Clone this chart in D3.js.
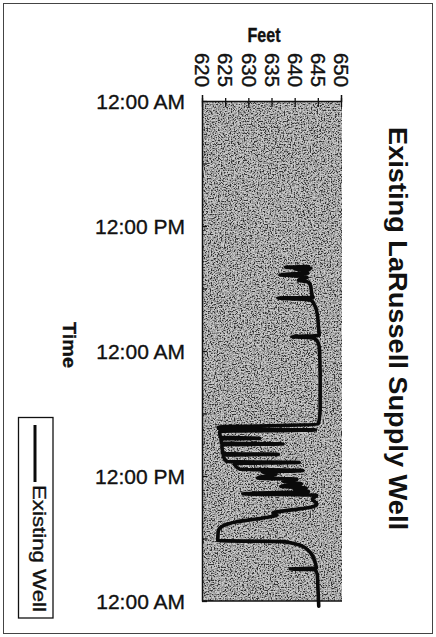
<!DOCTYPE html>
<html>
<head>
<meta charset="utf-8">
<script src="https://cdn.jsdelivr.net/npm/d3@7"></script>
<style>
  body { margin: 0; background: #fff; }
  svg { display: block; }
  text { font-family: "Liberation Sans", Arial, Helvetica, sans-serif; fill: #111; }
  .heavy { stroke: #111; stroke-width: 0.35px; }
</style>
</head>
<body>
<svg id="chart" width="436" height="637"></svg>
<script>
// Water level in the supply well, hours counted from midnight of day one
const hoursFromStart = [
  15.9, 15.97, 16.05, 16.12, 16.2, 16.35, 16.5, 16.7, 16.8, 16.95,
  17.2, 17.4, 17.7, 18.2, 18.7, 18.85, 18.92, 19.0, 19.15, 19.6,
  20.5, 21.5, 22.5, 22.62, 22.72, 23.0, 23.6, 26.0, 29.5, 30.6,
  31.05, 31.3, 31.5, 31.58, 31.72, 32.3, 32.38, 32.44, 32.85, 32.92,
  33.0, 33.85, 33.92, 34.0, 34.62, 34.7, 34.8, 35.35, 35.48, 35.6,
  35.8, 36.2, 36.3, 36.5, 36.75, 37.0, 37.15, 37.3, 37.5, 37.7,
  37.85, 38.2, 38.7, 39.0, 39.3, 39.55, 39.75, 40.0, 40.4, 40.85,
  41.3, 42.2, 42.3, 42.45, 42.65, 43.1, 43.6, 44.3, 44.85, 44.92,
  45.0, 45.5, 46.5, 47.5, 48.5
];
const waterLevelFt = [
  643.0, 638.0, 643.5, 640.0, 643.2, 641.0, 642.8, 636.8, 641.5, 642.7,
  640.8, 643.0, 643.4, 643.6, 643.8, 644.0, 636.4, 640.5, 643.6, 644.3,
  644.9, 645.1, 645.3, 639.4, 643.8, 644.8, 645.3, 645.5, 645.5, 645.3,
  645.0, 623.5, 623.6, 644.5, 623.8, 624.0, 632.5, 624.1, 624.2, 637.5,
  624.3, 624.5, 636.5, 624.6, 625.4, 641.0, 627.0, 628.2, 641.8, 633.0,
  636.0, 632.0, 640.5, 637.5, 641.5, 637.0, 642.5, 640.0, 643.0, 628.8,
  644.8, 643.8, 644.8, 643.5, 638.5, 635.3, 636.2, 633.5, 627.5, 624.3,
  623.5, 623.4, 637.5, 639.5, 641.2, 642.8, 643.8, 644.4, 644.7, 639.0,
  644.4, 644.9, 645.0, 645.1, 645.2
];
const feetTicks = [620, 625, 630, 635, 640, 645, 650];
const feetDomain = [620, 650];
const timeSpanHours = 48;
const titleText = "Existing LaRussell Supply Well";
const xAxisTitle = "Feet";
const yAxisTitle = "Time";
const seriesName = "Existing Well";

const svg = d3.select("#chart");
const W = 436, H = 637;
const plot = { left: 202, right: 342, top: 101, bottom: 601 };

const start = new Date(2000, 0, 1, 0, 0);
const toDate = h => new Date(start.getTime() + h * 3600 * 1000);
const points = hoursFromStart.map((h, i) => ({ t: toDate(h), v: waterLevelFt[i] }));

const x = d3.scaleLinear().domain(feetDomain).range([plot.left, plot.right - 1]);
const y = d3.scaleTime().domain([start, toDate(timeSpanHours)]).range([plot.top, plot.bottom]);

// outer frame of the figure
svg.append("rect")
  .attr("x", 3.5).attr("y", 3.5).attr("width", W - 7).attr("height", H - 7)
  .attr("fill", "none").attr("stroke", "#444").attr("stroke-width", 1);

// stippled grey plot background
const defs = svg.append("defs");
const grain = defs.append("filter").attr("id", "grain")
  .attr("x", 0).attr("y", 0).attr("width", "100%").attr("height", "100%");
grain.append("feTurbulence").attr("type", "fractalNoise")
  .attr("baseFrequency", 0.7).attr("numOctaves", 3).attr("seed", 11);
grain.append("feColorMatrix").attr("type", "matrix")
  .attr("values", "3.2 0 0 0 -1.1  3.2 0 0 0 -1.1  3.2 0 0 0 -1.1  0 0 0 0 1");

svg.append("rect")
  .attr("x", plot.left).attr("y", plot.top)
  .attr("width", plot.right - plot.left).attr("height", plot.bottom - plot.top)
  .attr("fill", "#838383");
svg.append("rect")
  .attr("x", plot.left).attr("y", plot.top)
  .attr("width", plot.right - plot.left).attr("height", plot.bottom - plot.top)
  .attr("filter", "url(#grain)").attr("opacity", 0.6);

// bottom edge of the plot
svg.append("line")
  .attr("x1", plot.left).attr("x2", plot.right)
  .attr("y1", plot.bottom).attr("y2", plot.bottom)
  .attr("stroke", "#111").attr("stroke-width", 1.5);

// top axis: feet
const xAxis = svg.append("g")
  .attr("transform", `translate(0,${plot.top})`)
  .call(d3.axisTop(x).tickValues(feetTicks).tickSizeOuter(0).tickSize(6));
xAxis.select(".domain").attr("stroke", "#111").attr("stroke-width", 1.5);
xAxis.selectAll(".tick line").attr("y1", -3).attr("y2", 6).attr("stroke", "#111").attr("stroke-width", 1.3);
xAxis.selectAll(".tick text")
  .attr("class", "heavy")
  .attr("transform", "rotate(90)")
  .attr("x", -14).attr("y", 0).attr("dy", "0.36em")
  .style("text-anchor", "end")
  .style("font-size", "20px")
  .attr("textLength", 34).attr("lengthAdjust", "spacingAndGlyphs")
  .attr("fill", "#111");

// left axis: time of day, ticks every six hours, labels every twelve
const fmt = d3.timeFormat("%I:%M %p");
const yAxis = svg.append("g")
  .attr("transform", `translate(${plot.left},0)`)
  .call(d3.axisLeft(y)
    .ticks(d3.timeHour.every(6))
    .tickSizeInner(-5).tickSizeOuter(0).tickPadding(17)
    .tickFormat(d => d.getHours() % 12 === 0 ? fmt(d) : ""));
yAxis.select(".domain").attr("stroke", "#111").attr("stroke-width", 1.5);
yAxis.selectAll(".tick line").attr("stroke", "#111").attr("stroke-width", 1.3);
yAxis.selectAll(".tick text")
  .attr("class", "heavy")
  .style("font-size", "21px")
  .attr("dy", "0.36em")
  .attr("fill", "#111");

// axis titles
svg.append("text")
  .attr("class", "heavy")
  .attr("x", 264).attr("y", 42)
  .style("text-anchor", "middle").style("font-weight", "bold").style("font-size", "20px")
  .attr("textLength", 33).attr("lengthAdjust", "spacingAndGlyphs")
  .text(xAxisTitle);

svg.append("text")
  .attr("class", "heavy")
  .attr("transform", "translate(63,345) rotate(90)")
  .style("text-anchor", "middle").style("font-weight", "bold").style("font-size", "18px")
  .attr("textLength", 46).attr("lengthAdjust", "spacingAndGlyphs")
  .text(yAxisTitle);

// chart title, reading downward on the right
svg.append("text")
  .attr("transform", "translate(389,127) rotate(90)")
  .style("text-anchor", "start").style("font-weight", "bold").style("font-size", "25px")
  .attr("textLength", 403).attr("lengthAdjust", "spacingAndGlyphs")
  .text(titleText);

// water level trace
const line = d3.line()
  .x(d => x(d.v))
  .y(d => y(d.t))
  .curve(d3.curveMonotoneY);
svg.append("path")
  .datum(points)
  .attr("d", line)
  .attr("fill", "none")
  .attr("stroke", "#0a0a0a")
  .attr("stroke-width", 3.6)
  .attr("stroke-linejoin", "round")
  .attr("stroke-linecap", "round");

// legend box
const legend = svg.append("g");
legend.append("rect")
  .attr("x", 18.5).attr("y", 417.5).attr("width", 34.5).attr("height", 200.5)
  .attr("fill", "#fff").attr("stroke", "#111").attr("stroke-width", 1.3);
legend.append("line")
  .attr("x1", 35).attr("x2", 35).attr("y1", 425).attr("y2", 482)
  .attr("stroke", "#0a0a0a").attr("stroke-width", 3);
legend.append("text")
  .attr("class", "heavy")
  .attr("transform", "translate(33,485) rotate(90)")
  .style("text-anchor", "start").style("font-size", "19px")
  .attr("textLength", 127).attr("lengthAdjust", "spacingAndGlyphs")
  .text(seriesName);
</script>
</body>
</html>
